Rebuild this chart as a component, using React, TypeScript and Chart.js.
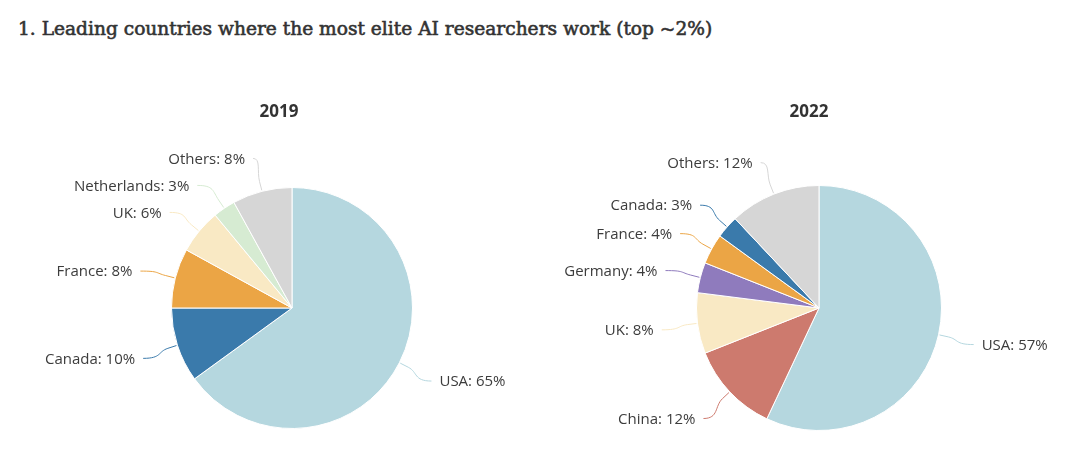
import React, { useEffect, useRef } from "react";
import { Chart, registerables } from "chart.js";

Chart.register(...registerables);

const pageTitle = "1. Leading countries where the most elite AI researchers work (top ~2%)";

const year2019 = "2019";
const countries2019 = ["USA", "Canada", "France", "UK", "Netherlands", "Others"];
const shares2019 = [65, 10, 8, 6, 3, 8];
const colors2019 = ["#b5d7df", "#3a7aab", "#eba545", "#f9e9c4", "#d6ebd2", "#d6d6d6"];

const year2022 = "2022";
const countries2022 = ["USA", "China", "UK", "Germany", "France", "Canada", "Others"];
const shares2022 = [57, 12, 8, 4, 4, 3, 12];
const colors2022 = ["#b5d7df", "#cd7a6e", "#f9e9c4", "#8f7bbd", "#eba545", "#3a7aab", "#d6d6d6"];

const LABEL_FONT = "15px 'Open Sans'";
const TEXT_COLOR = "#3c3c3c";

const outLabelsPlugin = {
  id: "outLabels",
  afterDatasetsDraw(chart: any, _args: any, opts: any) {
    const meta = chart.getDatasetMeta(0);
    const labels = chart.data.labels as string[];
    const values = chart.data.datasets[0].data as number[];
    const colors = chart.data.datasets[0].backgroundColor as string[];
    const ctx = chart.ctx as CanvasRenderingContext2D;
    const dist = opts.distance ?? 36;
    const spacing = opts.spacing ?? 27;

    const items = meta.data.map((arc: any, i: number) => {
      const p = arc.getProps(["x", "y", "startAngle", "endAngle", "outerRadius"], true);
      const mid = (p.startAngle + p.endAngle) / 2;
      const R = p.outerRadius + dist;
      return {
        i,
        mid,
        cx: p.x,
        cy: p.y,
        r: p.outerRadius,
        R,
        right: Math.cos(mid) >= 0,
        x: p.x + R * Math.cos(mid),
        y: p.y + R * Math.sin(mid),
      };
    });

    [true, false].forEach((side) => {
      const group = items.filter((it: any) => it.right === side).sort((a: any, b: any) => a.y - b.y);
      for (let k = 1; k < group.length; k++) {
        if (group[k].y < group[k - 1].y + spacing) group[k].y = group[k - 1].y + spacing;
      }
      group.forEach((it: any) => {
        const dy = it.y - it.cy;
        if (Math.abs(dy) < it.R) {
          it.x = it.cx + (it.right ? 1 : -1) * Math.sqrt(it.R * it.R - dy * dy);
        }
      });
    });

    ctx.save();
    items.forEach((it: any) => {
      const dir = it.right ? 1 : -1;
      const c = Math.cos(it.mid);
      const s = Math.sin(it.mid);
      const ex = it.cx + (it.r + 1) * c;
      const ey = it.cy + (it.r + 1) * s;
      const bx = it.cx + (it.r + 10) * c;
      const by = it.cy + (it.r + 10) * s;
      const ly = it.y + 2;
      const k = Math.abs(bx - it.x) * 0.6 + 4;
      ctx.beginPath();
      ctx.moveTo(it.x, ly);
      ctx.bezierCurveTo(it.x - dir * k, ly, bx + (bx - ex) * 1.2, by + (by - ey) * 1.2, bx, by);
      ctx.lineTo(ex, ey);
      ctx.strokeStyle = colors[it.i];
      ctx.lineWidth = 1;
      ctx.stroke();

      ctx.font = LABEL_FONT;
      ctx.fillStyle = TEXT_COLOR;
      ctx.textBaseline = "middle";
      ctx.textAlign = it.right ? "left" : "right";
      ctx.fillText(`${labels[it.i]}: ${values[it.i]}%`, it.x + dir * 8, ly + 1);
    });

    // pie title
    const area = chart.chartArea;
    ctx.font = "bold 17px 'Open Sans'";
    ctx.fillStyle = "#333333";
    ctx.textAlign = "center";
    ctx.textBaseline = "middle";
    ctx.fillText(opts.title, (area.left + area.right) / 2 + opts.titleDx, opts.titleY);
    ctx.restore();
  },
};

type PieProps = {
  labels: string[];
  values: number[];
  colors: string[];
  title: string;
  padding: { left: number; right: number; top: number; bottom: number };
  titleDx: number;
  titleY: number;
  style: React.CSSProperties;
};

function PieChart({ labels, values, colors, title, padding, titleDx, titleY, style }: PieProps) {
  const ref = useRef<HTMLCanvasElement>(null);
  useEffect(() => {
    if (!ref.current) return;
    const chart = new Chart(ref.current, {
      type: "pie",
      data: {
        labels,
        datasets: [
          {
            data: values,
            backgroundColor: colors,
            borderColor: "#ffffff",
            borderWidth: 1,
          },
        ],
      },
      options: {
        responsive: false,
        maintainAspectRatio: false,
        animation: false,
        layout: { padding },
        plugins: {
          legend: { display: false },
          tooltip: { enabled: false },
          title: { display: false },
          outLabels: { distance: 36, spacing: 27, title, titleDx, titleY },
        } as any,
      },
      plugins: [outLabelsPlugin],
    });
    return () => chart.destroy();
  }, []);
  return <canvas ref={ref} width={540} height={355} style={{ position: "absolute", ...style }} />;
}

export default function App() {
  return (
    <div style={{ position: "relative", width: 1064, height: 434, background: "#ffffff" }}>
      <div
        style={{
          position: "absolute",
          left: 10,
          top: 8,
          fontFamily: "'DejaVu Serif', serif",
          fontWeight: 400,
          fontSize: 18.6,
          color: "#333333",
          whiteSpace: "nowrap",
          lineHeight: "26px",
          WebkitTextStroke: "0.6px #333333",
        }}
      >
        {pageTitle}
      </div>
      <PieChart
        labels={countries2019}
        values={shares2019}
        colors={colors2019}
        title={year2019}
        padding={{ left: 163, right: 135, top: 97, bottom: 16 }}
        titleDx={-13}
        titleY={22}
        style={{ left: 0, top: 82 }}
      />
      <PieChart
        labels={countries2022}
        values={shares2022}
        colors={colors2022}
        title={year2022}
        padding={{ left: 156, right: 138, top: 95, bottom: 14 }}
        titleDx={-10}
        titleY={22}
        style={{ left: 532, top: 82 }}
      />
    </div>
  );
}
